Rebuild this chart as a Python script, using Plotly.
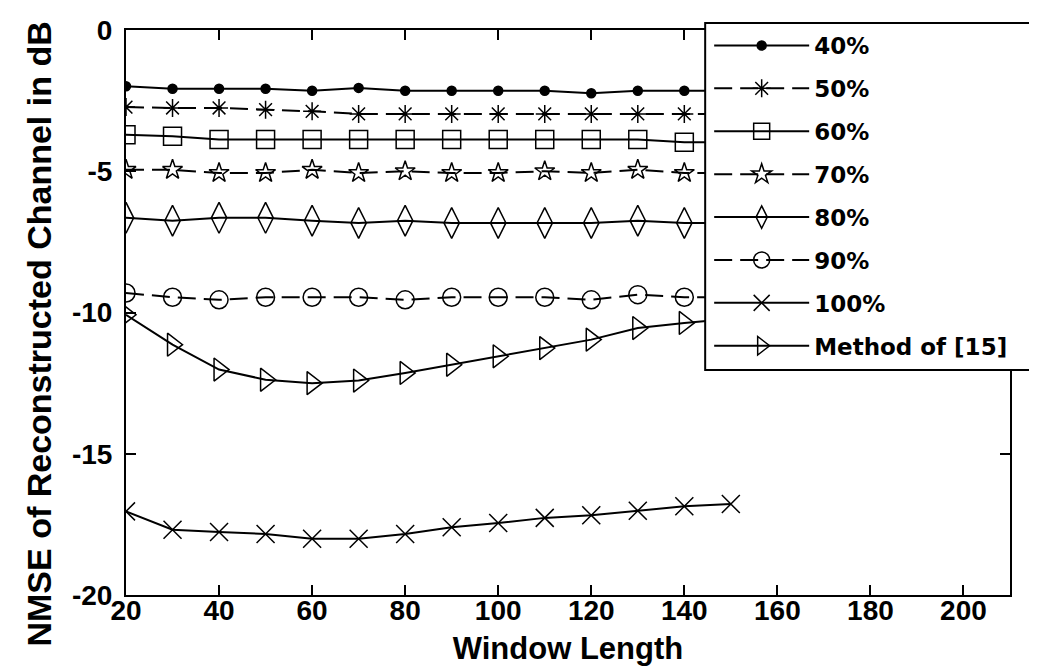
import plotly.graph_objects as go

window_length = [20, 30, 40, 50, 60, 70, 80, 90, 100, 110, 120, 130, 140, 150]

nmse_40 = [-1.99, -2.08, -2.08, -2.08, -2.15, -2.05, -2.15, -2.15, -2.15, -2.15, -2.24, -2.15, -2.15, -2.15]
nmse_50 = [-2.73, -2.76, -2.76, -2.82, -2.88, -2.97, -2.97, -2.97, -2.97, -2.97, -2.97, -2.97, -2.97, -2.97]
nmse_60 = [-3.71, -3.76, -3.88, -3.88, -3.88, -3.88, -3.88, -3.88, -3.88, -3.88, -3.88, -3.88, -3.97, -3.97]
nmse_70 = [-4.95, -4.95, -5.06, -5.06, -4.95, -5.06, -5.00, -5.06, -5.06, -5.00, -5.06, -4.95, -5.06, -5.06]
nmse_80 = [-6.65, -6.75, -6.65, -6.65, -6.75, -6.83, -6.75, -6.83, -6.83, -6.83, -6.83, -6.75, -6.83, -6.83]
nmse_90 = [-9.31, -9.46, -9.55, -9.46, -9.46, -9.46, -9.55, -9.46, -9.46, -9.46, -9.55, -9.37, -9.46, -9.46]
nmse_100 = [-17.04, -17.69, -17.77, -17.84, -18.01, -18.01, -17.84, -17.60, -17.45, -17.27, -17.18, -17.02, -16.86, -16.78]
nmse_method15 = [-10.08, -11.14, -12.02, -12.38, -12.50, -12.41, -12.14, -11.85, -11.55, -11.26, -10.96, -10.55, -10.37, -10.22]

series_names = ["40%", "50%", "60%", "70%", "80%", "90%", "100%", "Method of [15]"]
series_values = [nmse_40, nmse_50, nmse_60, nmse_70, nmse_80, nmse_90, nmse_100, nmse_method15]

x_ticks = [20, 40, 60, 80, 100, 120, 140, 160, 180, 200]
y_ticks = [0, -5, -10, -15, -20]

styles = [
    dict(symbol="circle", size=9, dash="solid"),
    dict(symbol="asterisk-open", size=15, dash="18px,8px"),
    dict(symbol="square-open", size=18, dash="solid"),
    dict(symbol="star-open", size=15, dash="18px,8px"),
    dict(symbol="diamond-tall-open", size=22, dash="solid"),
    dict(symbol="circle-open", size=18, dash="18px,8px"),
    dict(symbol="x-thin-open", size=18, dash="solid"),
    dict(symbol="triangle-right-open", size=20, dash="solid"),
]

fig = go.Figure()
for i, (name, vals, st) in enumerate(zip(series_names, series_values, styles)):
    fig.add_trace(go.Scatter(
        x=window_length, y=vals, name=name, mode="lines+markers",
        legendgroup="g%d" % i,
        line=dict(color="black", width=2, dash=st["dash"]),
        marker=dict(symbol=st["symbol"], size=st["size"], color="black",
                    line=dict(color="black", width=1.5)),
    ))

W, H = 1037, 671
L, R, T, B = 117.5, 1002, 22, 587
pw, ph = R - L, B - T

def px(xp):
    return (xp - L) / pw

def py(yp):
    return (B - yp) / ph

tick_font = dict(family="Liberation Sans, Arial, sans-serif", size=28, color="black", weight="bold")

fig.update_layout(
    width=W, height=H,
    margin=dict(l=L, r=W - R, t=T, b=H - B, autoexpand=False),
    paper_bgcolor="white", plot_bgcolor="white",
    showlegend=True,
    legend=dict(
        x=px(701), y=py(16), xanchor="left", yanchor="top",
        bgcolor="rgba(0,0,0,0)", borderwidth=0,
        font=dict(family="DejaVu Sans, sans-serif", size=23, color="black", weight="bold"),
        itemwidth=95, tracegroupgap=10, maxheight=600,
    ),
    xaxis=dict(
        range=[20, 210], tickvals=x_ticks, ticktext=[str(v) for v in x_ticks],
        showgrid=False, zeroline=False, showline=True, linecolor="black", linewidth=2,
        mirror="allticks", ticks="inside", ticklen=10, tickwidth=2, tickcolor="black",
        tickfont=tick_font, ticklabelstandoff=-11,
        title=dict(text="Window Length", standoff=13,
                   font=dict(family="Liberation Sans, Arial, sans-serif", size=31, color="black", weight="bold")),
    ),
    yaxis=dict(
        range=[-20, 0], tickvals=y_ticks, ticktext=[str(v) for v in y_ticks],
        showgrid=False, zeroline=False, showline=True, linecolor="black", linewidth=2,
        mirror="allticks", ticks="inside", ticklen=10, tickwidth=2, tickcolor="black",
        tickfont=tick_font, ticklabelstandoff=6,
    ),
    shapes=[dict(
        type="rect", xref="paper", yref="paper", layer="above",
        x0=px(697), x1=px(1045), y0=py(15), y1=py(362),
        line=dict(color="black", width=2), fillcolor="white",
    )],
    annotations=[dict(
        text="NMSE of Reconstructed Channel in dB", textangle=-90,
        xref="paper", yref="paper", x=px(29.5), y=py(326.5),
        xanchor="center", yanchor="middle", showarrow=False,
        font=dict(family="Liberation Sans, Arial, sans-serif", size=34, color="black", weight="bold"),
    )],
)

fig.write_html("out.html")
